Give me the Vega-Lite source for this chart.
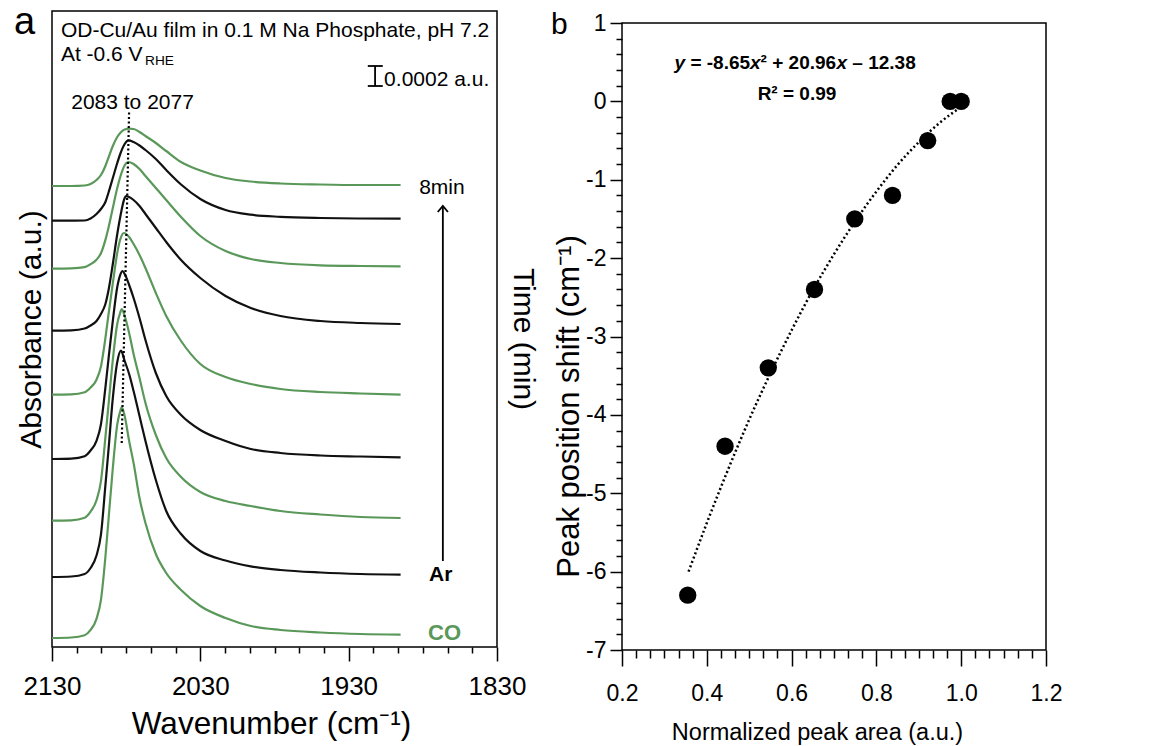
{
  "$schema": "https://vega.github.io/schema/vega-lite/v6.json",
  "padding": {"left": 13, "top": 2, "right": 0, "bottom": 0},
  "spacing": 11,
  "config": {
    "font": "Liberation Sans",
    "view": {"stroke": "black", "strokeWidth": 1.5},
    "axis": {"grid": false, "domain": false, "tickColor": "black", "tickWidth": 1.5, "labelColor": "black", "titleColor": "black", "titleFontWeight": "normal", "labelFont": "Liberation Sans", "titleFont": "Liberation Sans", "labelFlush": false, "labelOverlap": false},
    "text": {"font": "Liberation Sans"}
  },
  "hconcat": [
    {
      "width": 445,
      "height": 636,
      "encoding": {
        "x": {"field": "w", "type": "quantitative",
          "scale": {"domain": [1830, 2130], "reverse": true, "nice": false, "zero": false},
          "axis": {"title": "Wavenumber (cm⁻¹)", "titleFontSize": 31.5, "titlePadding": 9, "titleX": 219, "labelFontSize": 26, "labelPadding": 12,
            "values": [2130, 2113.333, 2096.667, 2080, 2063.333, 2046.667, 2030, 2013.333, 1996.667, 1980, 1963.333, 1946.667, 1930, 1913.333, 1896.667, 1880, 1863.333, 1846.667, 1830],
            "labelExpr": "indexof([2130,2030,1930,1830], datum.value) >= 0 ? '' + round(datum.value) : ''",
            "tickSize": {"condition": {"test": "indexof([2130,2030,1930,1830], datum.value) >= 0", "value": 14}, "value": 6}}},
        "y": {"field": "v", "type": "quantitative",
          "scale": {"domain": [0, 636], "nice": false, "zero": false},
          "axis": {"title": "Absorbance (a.u.)", "ticks": false, "labels": false, "titleFontSize": 30, "titlePadding": 6}}
      },
      "layer": [
        {
          "data": {"values": [
            {"s":0,"gas":"CO","w":2130,"v":9},{"s":0,"gas":"CO","w":2117,"v":9.5},{"s":0,"gas":"CO","w":2108,"v":11.8},{"s":0,"gas":"CO","w":2104,"v":17.1},{"s":0,"gas":"CO","w":2100,"v":28.2},{"s":0,"gas":"CO","w":2097,"v":47.1},{"s":0,"gas":"CO","w":2094,"v":90},{"s":0,"gas":"CO","w":2092,"v":125.7},{"s":0,"gas":"CO","w":2089,"v":179},{"s":0,"gas":"CO","w":2086,"v":222.7},{"s":0,"gas":"CO","w":2084,"v":235.8},{"s":0,"gas":"CO","w":2083,"v":240},{"s":0,"gas":"CO","w":2081,"v":231},{"s":0,"gas":"CO","w":2078,"v":206},{"s":0,"gas":"CO","w":2075,"v":184},{"s":0,"gas":"CO","w":2071,"v":149},{"s":0,"gas":"CO","w":2067,"v":124},{"s":0,"gas":"CO","w":2060,"v":93},{"s":0,"gas":"CO","w":2053,"v":74},{"s":0,"gas":"CO","w":2043,"v":57},{"s":0,"gas":"CO","w":2030,"v":41},{"s":0,"gas":"CO","w":2013,"v":29},{"s":0,"gas":"CO","w":1996,"v":21},{"s":0,"gas":"CO","w":1976,"v":17},{"s":0,"gas":"CO","w":1949,"v":14.5},{"s":0,"gas":"CO","w":1922,"v":13},{"s":0,"gas":"CO","w":1895,"v":12.3},
            {"s":1,"gas":"Ar","w":2130,"v":70},{"s":1,"gas":"Ar","w":2117,"v":70.5},{"s":1,"gas":"Ar","w":2108,"v":73},{"s":1,"gas":"Ar","w":2104,"v":79},{"s":1,"gas":"Ar","w":2100,"v":91.5},{"s":1,"gas":"Ar","w":2097,"v":112.3},{"s":1,"gas":"Ar","w":2094,"v":161.7},{"s":1,"gas":"Ar","w":2092,"v":195.6},{"s":1,"gas":"Ar","w":2089,"v":248.8},{"s":1,"gas":"Ar","w":2086,"v":285},{"s":1,"gas":"Ar","w":2083.5,"v":296.3},{"s":1,"gas":"Ar","w":2081,"v":286},{"s":1,"gas":"Ar","w":2078,"v":273},{"s":1,"gas":"Ar","w":2075,"v":256},{"s":1,"gas":"Ar","w":2071,"v":231},{"s":1,"gas":"Ar","w":2067,"v":206},{"s":1,"gas":"Ar","w":2060,"v":167},{"s":1,"gas":"Ar","w":2053,"v":136},{"s":1,"gas":"Ar","w":2043,"v":113},{"s":1,"gas":"Ar","w":2030,"v":96},{"s":1,"gas":"Ar","w":2013,"v":86.5},{"s":1,"gas":"Ar","w":1996,"v":80.7},{"s":1,"gas":"Ar","w":1976,"v":77},{"s":1,"gas":"Ar","w":1949,"v":74.5},{"s":1,"gas":"Ar","w":1922,"v":73},{"s":1,"gas":"Ar","w":1895,"v":72.3},
            {"s":2,"gas":"CO","w":2130,"v":126.3},{"s":2,"gas":"CO","w":2117,"v":126.7},{"s":2,"gas":"CO","w":2108,"v":129.3},{"s":2,"gas":"CO","w":2104,"v":135.4},{"s":2,"gas":"CO","w":2100,"v":146.8},{"s":2,"gas":"CO","w":2097,"v":165.9},{"s":2,"gas":"CO","w":2094,"v":209.7},{"s":2,"gas":"CO","w":2092,"v":240.6},{"s":2,"gas":"CO","w":2089,"v":287.2},{"s":2,"gas":"CO","w":2086,"v":323.2},{"s":2,"gas":"CO","w":2084,"v":334.4},{"s":2,"gas":"CO","w":2083,"v":338},{"s":2,"gas":"CO","w":2081,"v":331},{"s":2,"gas":"CO","w":2078,"v":314},{"s":2,"gas":"CO","w":2075,"v":293},{"s":2,"gas":"CO","w":2071,"v":269},{"s":2,"gas":"CO","w":2067,"v":244},{"s":2,"gas":"CO","w":2060,"v":212},{"s":2,"gas":"CO","w":2053,"v":189},{"s":2,"gas":"CO","w":2043,"v":170},{"s":2,"gas":"CO","w":2030,"v":155},{"s":2,"gas":"CO","w":2013,"v":146},{"s":2,"gas":"CO","w":1996,"v":141},{"s":2,"gas":"CO","w":1976,"v":136},{"s":2,"gas":"CO","w":1949,"v":132.5},{"s":2,"gas":"CO","w":1922,"v":130},{"s":2,"gas":"CO","w":1895,"v":129},
            {"s":3,"gas":"Ar","w":2130,"v":188},{"s":3,"gas":"Ar","w":2117,"v":188.4},{"s":3,"gas":"Ar","w":2108,"v":190.8},{"s":3,"gas":"Ar","w":2104,"v":196.5},{"s":3,"gas":"Ar","w":2100,"v":206.2},{"s":3,"gas":"Ar","w":2097,"v":222.8},{"s":3,"gas":"Ar","w":2094,"v":259.4},{"s":3,"gas":"Ar","w":2092,"v":286.7},{"s":3,"gas":"Ar","w":2089,"v":326.2},{"s":3,"gas":"Ar","w":2086,"v":360},{"s":3,"gas":"Ar","w":2084,"v":372.2},{"s":3,"gas":"Ar","w":2082.5,"v":376},{"s":3,"gas":"Ar","w":2081,"v":373},{"s":3,"gas":"Ar","w":2078,"v":362},{"s":3,"gas":"Ar","w":2075,"v":349},{"s":3,"gas":"Ar","w":2071,"v":329},{"s":3,"gas":"Ar","w":2067,"v":307},{"s":3,"gas":"Ar","w":2060,"v":274},{"s":3,"gas":"Ar","w":2053,"v":251},{"s":3,"gas":"Ar","w":2043,"v":232},{"s":3,"gas":"Ar","w":2030,"v":217},{"s":3,"gas":"Ar","w":2013,"v":206},{"s":3,"gas":"Ar","w":1996,"v":198},{"s":3,"gas":"Ar","w":1976,"v":194},{"s":3,"gas":"Ar","w":1949,"v":191.5},{"s":3,"gas":"Ar","w":1922,"v":190.5},{"s":3,"gas":"Ar","w":1895,"v":189.7},
            {"s":4,"gas":"CO","w":2130,"v":252.3},{"s":4,"gas":"CO","w":2117,"v":252.6},{"s":4,"gas":"CO","w":2108,"v":254.7},{"s":4,"gas":"CO","w":2104,"v":259.4},{"s":4,"gas":"CO","w":2100,"v":267.3},{"s":4,"gas":"CO","w":2097,"v":280.6},{"s":4,"gas":"CO","w":2094,"v":308.9},{"s":4,"gas":"CO","w":2092,"v":331.5},{"s":4,"gas":"CO","w":2089,"v":363.9},{"s":4,"gas":"CO","w":2086,"v":394.1},{"s":4,"gas":"CO","w":2084,"v":407.5},{"s":4,"gas":"CO","w":2081.5,"v":414},{"s":4,"gas":"CO","w":2078,"v":410},{"s":4,"gas":"CO","w":2075,"v":403},{"s":4,"gas":"CO","w":2071,"v":392},{"s":4,"gas":"CO","w":2067,"v":379},{"s":4,"gas":"CO","w":2060,"v":354},{"s":4,"gas":"CO","w":2053,"v":331},{"s":4,"gas":"CO","w":2043,"v":306},{"s":4,"gas":"CO","w":2030,"v":283},{"s":4,"gas":"CO","w":2013,"v":270},{"s":4,"gas":"CO","w":1996,"v":263},{"s":4,"gas":"CO","w":1976,"v":258},{"s":4,"gas":"CO","w":1949,"v":255},{"s":4,"gas":"CO","w":1922,"v":253.5},{"s":4,"gas":"CO","w":1895,"v":252.3},
            {"s":5,"gas":"Ar","w":2130,"v":316.3},{"s":5,"gas":"Ar","w":2117,"v":316.7},{"s":5,"gas":"Ar","w":2108,"v":318.5},{"s":5,"gas":"Ar","w":2104,"v":321.5},{"s":5,"gas":"Ar","w":2100,"v":326},{"s":5,"gas":"Ar","w":2097,"v":333},{"s":5,"gas":"Ar","w":2094,"v":343},{"s":5,"gas":"Ar","w":2092,"v":356},{"s":5,"gas":"Ar","w":2089,"v":383},{"s":5,"gas":"Ar","w":2086,"v":413},{"s":5,"gas":"Ar","w":2084,"v":430},{"s":5,"gas":"Ar","w":2081,"v":449},{"s":5,"gas":"Ar","w":2080,"v":450.8},{"s":5,"gas":"Ar","w":2078,"v":450},{"s":5,"gas":"Ar","w":2075,"v":447},{"s":5,"gas":"Ar","w":2071,"v":441},{"s":5,"gas":"Ar","w":2067,"v":433},{"s":5,"gas":"Ar","w":2060,"v":419},{"s":5,"gas":"Ar","w":2053,"v":405},{"s":5,"gas":"Ar","w":2043,"v":387},{"s":5,"gas":"Ar","w":2030,"v":369},{"s":5,"gas":"Ar","w":2013,"v":351},{"s":5,"gas":"Ar","w":1996,"v":339},{"s":5,"gas":"Ar","w":1976,"v":331},{"s":5,"gas":"Ar","w":1949,"v":326},{"s":5,"gas":"Ar","w":1922,"v":324},{"s":5,"gas":"Ar","w":1895,"v":323},
            {"s":6,"gas":"CO","w":2130,"v":378.3},{"s":6,"gas":"CO","w":2117,"v":378.6},{"s":6,"gas":"CO","w":2108,"v":379.9},{"s":6,"gas":"CO","w":2104,"v":382.8},{"s":6,"gas":"CO","w":2100,"v":387.3},{"s":6,"gas":"CO","w":2097,"v":393.8},{"s":6,"gas":"CO","w":2094,"v":407.1},{"s":6,"gas":"CO","w":2092,"v":418.8},{"s":6,"gas":"CO","w":2089,"v":439.1},{"s":6,"gas":"CO","w":2086,"v":458.9},{"s":6,"gas":"CO","w":2084,"v":470},{"s":6,"gas":"CO","w":2081,"v":481.8},{"s":6,"gas":"CO","w":2078.5,"v":485},{"s":6,"gas":"CO","w":2075,"v":483},{"s":6,"gas":"CO","w":2071,"v":478},{"s":6,"gas":"CO","w":2067,"v":471},{"s":6,"gas":"CO","w":2060,"v":459},{"s":6,"gas":"CO","w":2053,"v":447},{"s":6,"gas":"CO","w":2043,"v":430},{"s":6,"gas":"CO","w":2030,"v":411},{"s":6,"gas":"CO","w":2013,"v":396},{"s":6,"gas":"CO","w":1996,"v":388},{"s":6,"gas":"CO","w":1976,"v":384},{"s":6,"gas":"CO","w":1949,"v":381.7},{"s":6,"gas":"CO","w":1922,"v":381},{"s":6,"gas":"CO","w":1895,"v":380.7},
            {"s":7,"gas":"Ar","w":2130,"v":426.3},{"s":7,"gas":"Ar","w":2117,"v":426.4},{"s":7,"gas":"Ar","w":2108,"v":426.5},{"s":7,"gas":"Ar","w":2104,"v":428.5},{"s":7,"gas":"Ar","w":2100,"v":433},{"s":7,"gas":"Ar","w":2097,"v":438},{"s":7,"gas":"Ar","w":2094,"v":445},{"s":7,"gas":"Ar","w":2092,"v":454},{"s":7,"gas":"Ar","w":2089,"v":469},{"s":7,"gas":"Ar","w":2086,"v":484},{"s":7,"gas":"Ar","w":2084,"v":493},{"s":7,"gas":"Ar","w":2081,"v":503},{"s":7,"gas":"Ar","w":2078.5,"v":506.7},{"s":7,"gas":"Ar","w":2075,"v":505},{"s":7,"gas":"Ar","w":2071,"v":501.5},{"s":7,"gas":"Ar","w":2067,"v":497},{"s":7,"gas":"Ar","w":2060,"v":488},{"s":7,"gas":"Ar","w":2053,"v":477},{"s":7,"gas":"Ar","w":2043,"v":462.5},{"s":7,"gas":"Ar","w":2030,"v":448},{"s":7,"gas":"Ar","w":2013,"v":437},{"s":7,"gas":"Ar","w":1996,"v":432.3},{"s":7,"gas":"Ar","w":1976,"v":430.2},{"s":7,"gas":"Ar","w":1949,"v":429},{"s":7,"gas":"Ar","w":1922,"v":428.5},{"s":7,"gas":"Ar","w":1895,"v":428.3},
            {"s":8,"gas":"CO","w":2130,"v":461},{"s":8,"gas":"CO","w":2117,"v":461},{"s":8,"gas":"CO","w":2108,"v":461.5},{"s":8,"gas":"CO","w":2104,"v":463},{"s":8,"gas":"CO","w":2100,"v":467},{"s":8,"gas":"CO","w":2097,"v":472},{"s":8,"gas":"CO","w":2094,"v":481},{"s":8,"gas":"CO","w":2092,"v":489},{"s":8,"gas":"CO","w":2089,"v":501},{"s":8,"gas":"CO","w":2086,"v":510},{"s":8,"gas":"CO","w":2084,"v":514},{"s":8,"gas":"CO","w":2081,"v":517.5},{"s":8,"gas":"CO","w":2078,"v":518.3},{"s":8,"gas":"CO","w":2075,"v":518},{"s":8,"gas":"CO","w":2071,"v":515},{"s":8,"gas":"CO","w":2067,"v":511},{"s":8,"gas":"CO","w":2060,"v":504},{"s":8,"gas":"CO","w":2053,"v":496},{"s":8,"gas":"CO","w":2043,"v":485},{"s":8,"gas":"CO","w":2030,"v":476.5},{"s":8,"gas":"CO","w":2013,"v":469},{"s":8,"gas":"CO","w":1996,"v":465.5},{"s":8,"gas":"CO","w":1976,"v":463.5},{"s":8,"gas":"CO","w":1949,"v":462.5},{"s":8,"gas":"CO","w":1922,"v":462},{"s":8,"gas":"CO","w":1895,"v":462}
          ]},
          "mark": {"type": "line", "interpolate": "monotone", "strokeWidth": 2.2},
          "encoding": {
            "color": {"field": "gas", "type": "nominal", "scale": {"domain": ["CO", "Ar"], "range": ["#5a985a", "#111111"]}, "legend": null},
            "detail": {"field": "s", "type": "nominal"}
          }
        },
        {
          "data": {"values": [{"w": 2083, "v": 204}, {"w": 2078, "v": 537}]},
          "mark": {"type": "line", "color": "black", "strokeWidth": 2.2, "strokeDash": [2, 2.5]},
          "encoding": {}
        },
        {
          "data": {"values": [{"w": 1912.2, "v": 561, "v2": 581}]},
          "mark": {"type": "rule", "color": "black", "strokeWidth": 1.8},
          "encoding": {"y2": {"field": "v2"}}
        },
        {
          "data": {"values": [{"w": 1917.1, "w2": 1907.0, "v": 561}, {"w": 1917.1, "w2": 1907.0, "v": 581}]},
          "mark": {"type": "rule", "color": "black", "strokeWidth": 1.8},
          "encoding": {"x2": {"field": "w2"}}
        },
        {
          "data": {"values": [{"w": 1866.5, "v": 86, "v2": 441}]},
          "mark": {"type": "rule", "color": "black", "strokeWidth": 1.8},
          "encoding": {"y2": {"field": "v2"}}
        },
        {
          "data": {"values": [{"w": 1866.5, "v": 441}]},
          "mark": {"type": "point", "shape": "M-0.85,1L0,0L0.85,1", "size": 144, "filled": false, "stroke": "black", "strokeWidth": 1.8, "opacity": 1}
        },
        {
          "data": {"values": [
            {"w": 2124, "v": 610, "t": "OD-Cu/Au film in 0.1 M Na Phosphate, pH 7.2"},
            {"w": 2124, "v": 586, "t": "At -0.6 V"},
            {"w": 1906.1, "v": 561, "t": "0.0002 a.u."},
            {"w": 1882.5, "v": 453, "t": "8min"}
          ]},
          "mark": {"type": "text", "align": "left", "baseline": "alphabetic", "fontSize": 21, "color": "black"},
          "encoding": {"text": {"field": "t"}}
        },
        {
          "data": {"values": [{"w": 2067.3, "v": 582, "t": "RHE"}]},
          "mark": {"type": "text", "align": "left", "baseline": "alphabetic", "fontSize": 13.7, "color": "black"},
          "encoding": {"text": {"field": "t"}}
        },
        {
          "data": {"values": [{"w": 2075.7, "v": 538, "t": "2083 to 2077"}]},
          "mark": {"type": "text", "align": "center", "baseline": "alphabetic", "fontSize": 21, "color": "black"},
          "encoding": {"text": {"field": "t"}}
        },
        {
          "data": {"values": [{"w": 1875.8, "v": 66, "t": "Ar"}]},
          "mark": {"type": "text", "align": "left", "baseline": "alphabetic", "fontSize": 21, "fontWeight": "bold", "color": "black"},
          "encoding": {"text": {"field": "t"}}
        },
        {
          "data": {"values": [{"w": 1876.5, "v": 7, "t": "CO"}]},
          "mark": {"type": "text", "align": "left", "baseline": "alphabetic", "fontSize": 22, "fontWeight": "bold", "color": "#5a985a"},
          "encoding": {"text": {"field": "t"}}
        },
        {
          "data": {"values": [{"w": 2155.6, "v": 613.3, "t": "a"}]},
          "mark": {"type": "text", "align": "left", "baseline": "alphabetic", "fontSize": 38, "color": "black"},
          "encoding": {"text": {"field": "t"}}
        },
        {
          "data": {"values": [{"w": 1812.4, "v": 308, "t": "Time (min)"}]},
          "mark": {"type": "text", "align": "center", "baseline": "middle", "angle": 90, "fontSize": 30, "color": "black"},
          "encoding": {"text": {"field": "t"}}
        }
      ]
    },
    {
      "spacing": 0,
      "bounds": "flush",
      "vconcat": [
        {
          "width": 424,
          "height": 11.7,
          "view": {"stroke": null},
          "data": {"values": [{"z": 0}]},
          "mark": {"type": "point", "opacity": 0}
        },
        {
          "width": 424,
          "height": 627,
          "encoding": {
            "x": {"field": "area", "type": "quantitative",
              "scale": {"domain": [0.2, 1.2], "nice": false, "zero": false},
              "axis": {"title": "Normalized peak area (a.u.)", "titleFontSize": 23.5, "titlePadding": 15, "titleX": 195, "labelFontSize": 23, "labelPadding": 16,
                "values": [0.2, 0.2333, 0.2667, 0.3, 0.3333, 0.3667, 0.4, 0.4333, 0.4667, 0.5, 0.5333, 0.5667, 0.6, 0.6333, 0.6667, 0.7, 0.7333, 0.7667, 0.8, 0.8333, 0.8667, 0.9, 0.9333, 0.9667, 1.0, 1.0333, 1.0667, 1.1, 1.1333, 1.1667, 1.2],
                "labelExpr": "indexof([0.2,0.4,0.6,0.8,1,1.2], datum.value) >= 0 ? format(datum.value, '.1f') : ''",
                "tickSize": {"condition": {"test": "indexof([0.2,0.4,0.6,0.8,1,1.2], datum.value) >= 0", "value": 16}, "value": 8}}},
            "y": {"field": "shift", "type": "quantitative",
              "scale": {"domain": [-7, 1], "nice": false, "zero": false},
              "axis": {"title": "Peak position shift (cm⁻¹)", "titleFontSize": 31, "titlePadding": 0, "titleY": 383, "labelFontSize": 23, "labelPadding": 4,
                "values": [-7, -6.8, -6.6, -6.4, -6.2, -6, -5.8, -5.6, -5.4, -5.2, -5, -4.8, -4.6, -4.4, -4.2, -4, -3.8, -3.6, -3.4, -3.2, -3, -2.8, -2.6, -2.4, -2.2, -2, -1.8, -1.6, -1.4, -1.2, -1, -0.8, -0.6, -0.4, -0.2, 0, 0.2, 0.4, 0.6, 0.8, 1],
                "labelExpr": "datum.value == round(datum.value) ? '' + datum.value : ''",
                "tickSize": {"condition": {"test": "datum.value == round(datum.value)", "value": 12}, "value": 6}}}
          },
          "layer": [
            {
              "data": {"values": [
                {"area": 0.357, "shift": -6.0}, {"area": 0.4, "shift": -5.38}, {"area": 0.45, "shift": -4.70}, {"area": 0.5, "shift": -4.06}, {"area": 0.55, "shift": -3.47}, {"area": 0.6, "shift": -2.92}, {"area": 0.65, "shift": -2.41}, {"area": 0.7, "shift": -1.95}, {"area": 0.75, "shift": -1.53}, {"area": 0.8, "shift": -1.15}, {"area": 0.85, "shift": -0.81}, {"area": 0.9, "shift": -0.52}, {"area": 0.95, "shift": -0.27}, {"area": 1.0, "shift": -0.07}
              ]},
              "mark": {"type": "line", "color": "black", "strokeWidth": 2.5, "strokeDash": [2, 2.6], "interpolate": "monotone"},
              "encoding": {}
            },
            {
              "data": {"values": [
                {"area": 0.355, "shift": -6.3}, {"area": 0.443, "shift": -4.4}, {"area": 0.545, "shift": -3.4}, {"area": 0.654, "shift": -2.4}, {"area": 0.749, "shift": -1.5}, {"area": 0.838, "shift": -1.2}, {"area": 0.921, "shift": -0.5}, {"area": 0.974, "shift": 0}, {"area": 1.0, "shift": 0}
              ]},
              "mark": {"type": "circle", "size": 300, "color": "black", "opacity": 1}
            },
            {
              "data": {"values": [{"area": 0.3238, "shift": 0.409, "t": "y"}, {"area": 0.5021, "shift": 0.409, "t": "x"}, {"area": 0.7057, "shift": 0.409, "t": "x"}]},
              "mark": {"type": "text", "align": "left", "baseline": "alphabetic", "fontSize": 19, "fontWeight": "bold", "fontStyle": "italic", "color": "black"},
              "encoding": {"text": {"field": "t"}}
            },
            {
              "data": {"values": [{"area": 0.3613, "shift": 0.409, "t": "= -8.65"}, {"area": 0.5269, "shift": 0.409, "t": "² + 20.96"}, {"area": 0.7432, "shift": 0.409, "t": "– 12.38"}]},
              "mark": {"type": "text", "align": "left", "baseline": "alphabetic", "fontSize": 19, "fontWeight": "bold", "color": "black"},
              "encoding": {"text": {"field": "t"}}
            },
            {
              "data": {"values": [{"area": 0.6127, "shift": 0.014, "t": "R² = 0.99"}]},
              "mark": {"type": "text", "align": "center", "baseline": "alphabetic", "fontSize": 19, "fontWeight": "bold", "color": "black"},
              "encoding": {"text": {"field": "t"}}
            },
            {
              "data": {"values": [{"area": 0.0325, "shift": 0.865, "t": "b"}]},
              "mark": {"type": "text", "align": "left", "baseline": "alphabetic", "fontSize": 30, "color": "black"},
              "encoding": {"text": {"field": "t"}}
            }
          ]
        }
      ]
    }
  ]
}
